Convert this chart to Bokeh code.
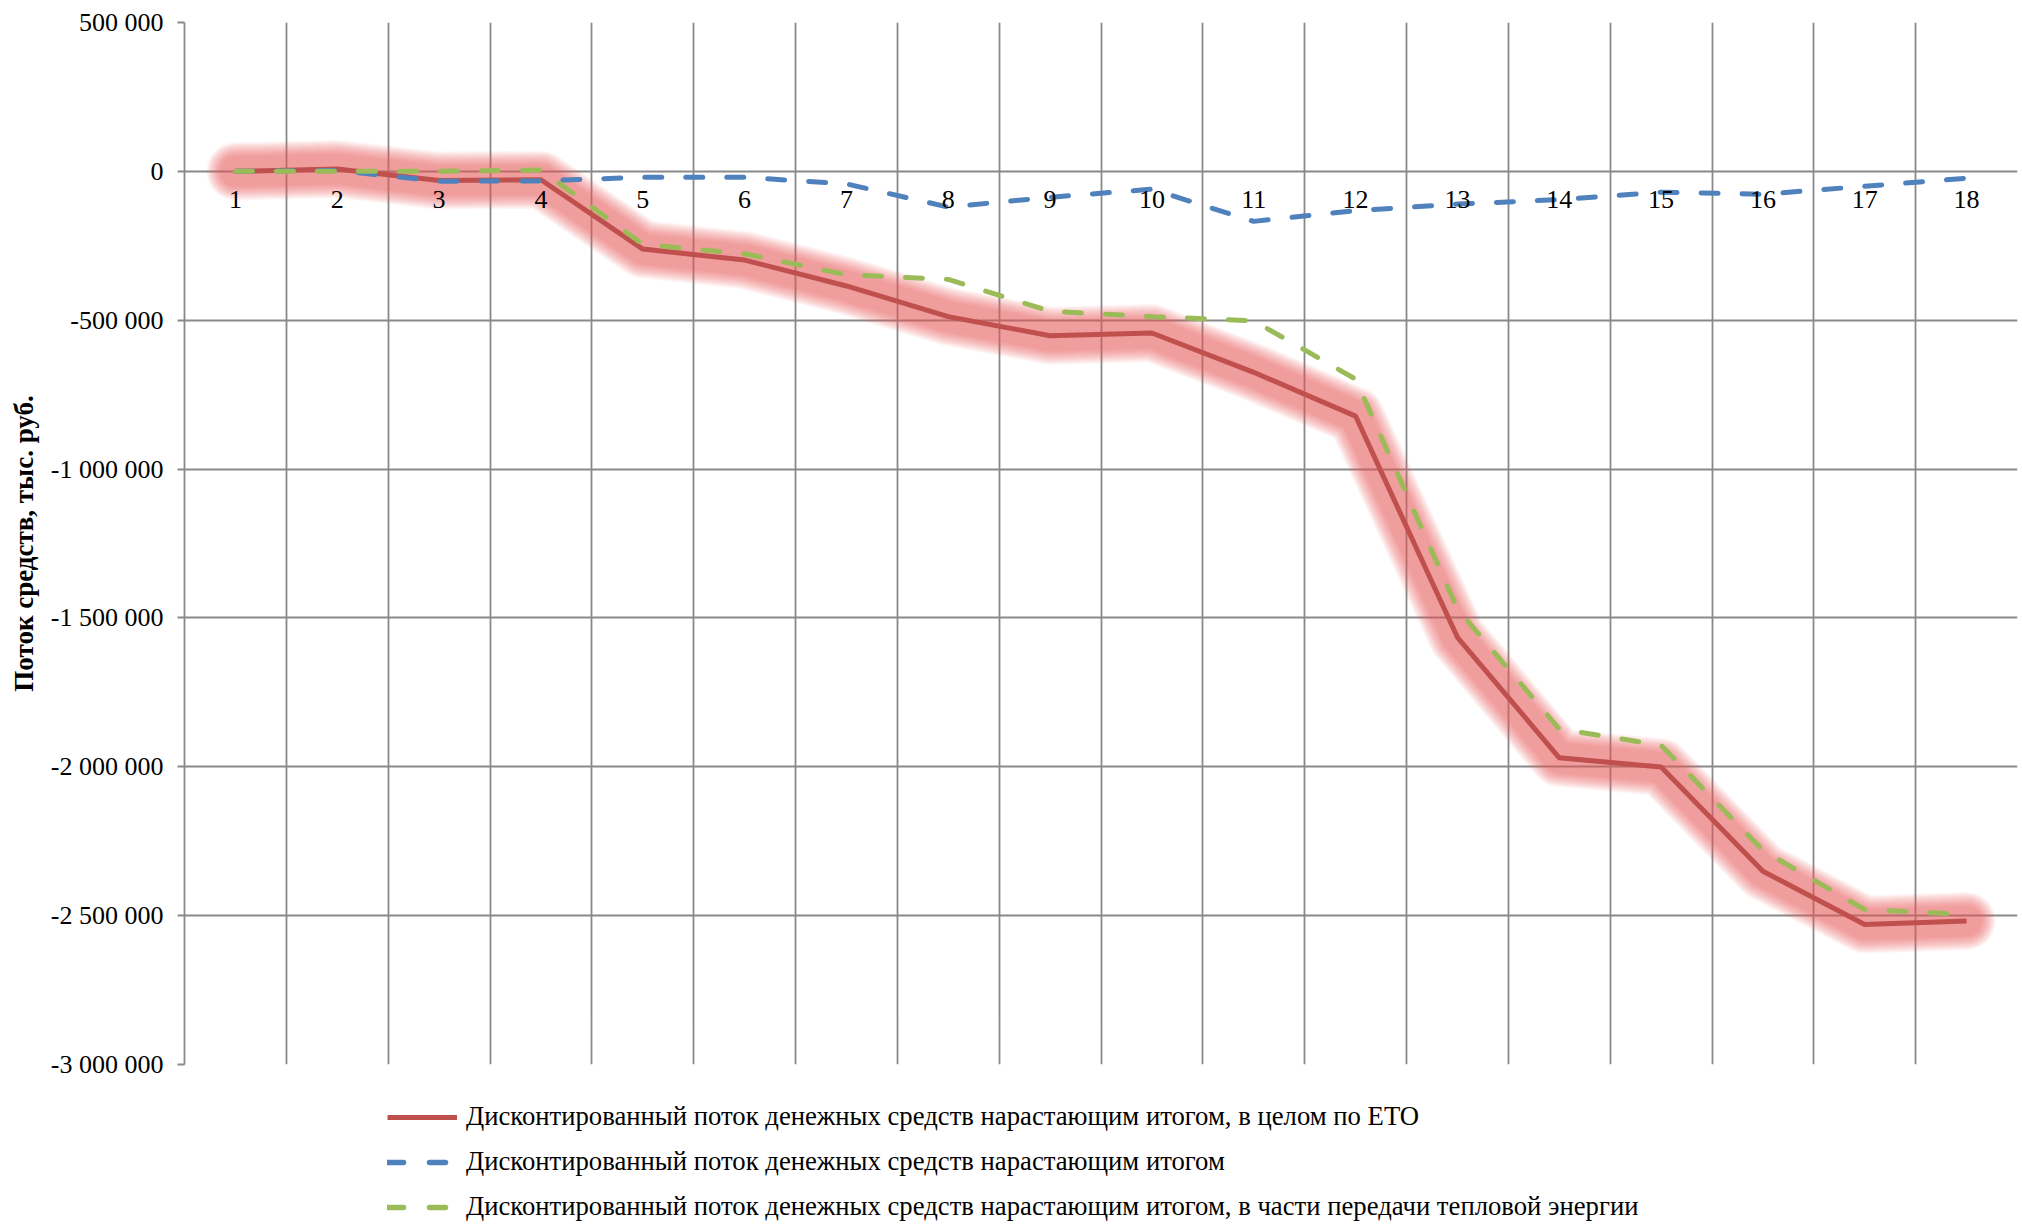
from bokeh.plotting import figure
from bokeh.layouts import column
from bokeh.models import Range1d, FixedTicker, Legend, LegendItem
from bokeh.embed import file_html
from bokeh.resources import INLINE

# ---- data ----
periods = [1, 2, 3, 4, 5, 6, 7, 8, 9, 10, 11, 12, 13, 14, 15, 16, 17, 18]
period_labels = ["1", "2", "3", "4", "5", "6", "7", "8", "9", "10",
                 "11", "12", "13", "14", "15", "16", "17", "18"]

eto_total = [0, 8000, -31000, -28000, -261000, -298000, -385000, -488000,
             -552000, -543000, -675000, -822000, -1565000, -1970000,
             -2001000, -2351000, -2530000, -2518000]
cash_flow = [0, 3000, -33000, -32000, -20000, -20000, -42000, -120000,
             -87000, -60000, -168000, -132000, -110000, -95000,
             -70000, -77000, -50000, -23000]
heat_transfer = [0, 0, 0, 5000, -245000, -277000, -347000, -363000,
                 -470000, -488000, -502000, -698000, -1470000, -1873000,
                 -1928000, -2281000, -2480000, -2496000]

series_names = [
    "Дисконтированный поток денежных средств нарастающим итогом, в целом по ЕТО",
    "Дисконтированный поток денежных средств нарастающим итогом",
    "Дисконтированный поток денежных средств нарастающим итогом, в части передачи тепловой энергии",
]

y_ticks = [500000, 0, -500000, -1000000, -1500000, -2000000, -2500000, -3000000]
y_tick_labels = ["500 000", "0", "-500 000", "-1 000 000", "-1 500 000",
                 "-2 000 000", "-2 500 000", "-3 000 000"]
y_title = "Поток средств, тыс. руб."

FONT = "Liberation Serif"
GRID = "#898989"
RED, BLUE, GREEN = "#C0504D", "#4F81BD", "#9BBB59"
DASH = "17 24"

p = figure(width=2020, height=1084, output_backend="svg", toolbar_location=None,
           x_range=Range1d(0.5, 18.5), y_range=Range1d(-3000000, 500000),
           min_border_left=184, min_border_top=22, min_border_right=3,
           min_border_bottom=20)
p.outline_line_color = None
p.background_fill_color = "white"
p.border_fill_color = "white"

# soft pink glow under the red line
for w in range(58, 28, -2):
    p.line(periods, eto_total, line_width=w, line_alpha=0.055, color="#EC5E5E",
           line_join="round", line_cap="round")

r_red = p.line(periods, eto_total, line_width=5, color=RED)
r_blue = p.line(periods, cash_flow, line_width=5, color=BLUE,
                line_dash=DASH, line_cap="round")
r_green = p.line(periods, heat_transfer, line_width=5, color=GREEN,
                 line_dash=DASH, line_cap="round")

# x axis crossing at zero
p.xaxis.fixed_location = 0
p.xaxis.ticker = FixedTicker(ticks=periods)
p.xaxis.major_label_overrides = {t: l for t, l in zip(periods, period_labels)}
p.xaxis.axis_line_color = None
p.xaxis.major_tick_line_color = None
p.xaxis.minor_tick_line_color = None
p.xaxis.major_label_text_font = FONT
p.xaxis.major_label_text_font_size = "26px"
p.xaxis.major_label_text_color = "black"
p.xaxis.major_label_standoff = 14

p.xgrid.ticker = FixedTicker(ticks=[t - 0.5 for t in periods] + [periods[-1] + 0.5])
p.xgrid.grid_line_color = GRID
p.xgrid.grid_line_width = 1.8

p.yaxis.ticker = FixedTicker(ticks=y_ticks)
p.yaxis.major_label_overrides = {t: l for t, l in zip(y_ticks, y_tick_labels)}
p.yaxis.axis_line_color = GRID
p.yaxis.axis_line_width = 1.8
p.yaxis.major_tick_line_color = GRID
p.yaxis.major_tick_line_width = 1.8
p.yaxis.major_tick_out = 7
p.yaxis.major_tick_in = 0
p.yaxis.minor_tick_line_color = None
p.yaxis.major_label_text_font = FONT
p.yaxis.major_label_text_font_size = "26px"
p.yaxis.major_label_text_color = "black"
p.yaxis.major_label_standoff = 14
p.yaxis.axis_label = y_title
p.yaxis.axis_label_text_font = FONT
p.yaxis.axis_label_text_font_size = "27px"
p.yaxis.axis_label_text_font_style = "bold"
p.yaxis.axis_label_text_color = "black"
p.yaxis.axis_label_standoff = 9

p.ygrid.grid_line_color = GRID
p.ygrid.grid_line_width = 1.8

# legend panel below the chart (its sample lines lie outside its own view)
leg = figure(width=2020, height=138, output_backend="svg", toolbar_location=None,
             x_range=Range1d(100, 101), y_range=Range1d(100, 101),
             min_border_left=184, min_border_right=3,
             min_border_top=0, min_border_bottom=0)
leg.axis.visible = False
leg.grid.visible = False
leg.outline_line_color = None
leg.background_fill_color = "white"
leg.border_fill_color = "white"

k_red = leg.line(periods, eto_total, line_width=5, color=RED)
k_blue = leg.line(periods, cash_flow, line_width=5.5, color=BLUE,
                  line_dash="16 26", line_cap="round")
k_green = leg.line(periods, heat_transfer, line_width=5.5, color=GREEN,
                   line_dash="16 26", line_cap="round")

legend = Legend(
    items=[LegendItem(label=series_names[0], renderers=[k_red]),
           LegendItem(label=series_names[1], renderers=[k_blue]),
           LegendItem(label=series_names[2], renderers=[k_green])],
    location=(203, 0), orientation="vertical",
    glyph_width=70, glyph_height=30, label_standoff=9, label_height=30,
    label_text_font=FONT, label_text_font_size="26.7px", label_text_color="black",
    spacing=14, padding=0, margin=0,
    border_line_color=None, background_fill_alpha=0,
)
leg.add_layout(legend)

open("out.html", "w").write(file_html(column(p, leg, spacing=0), INLINE))
